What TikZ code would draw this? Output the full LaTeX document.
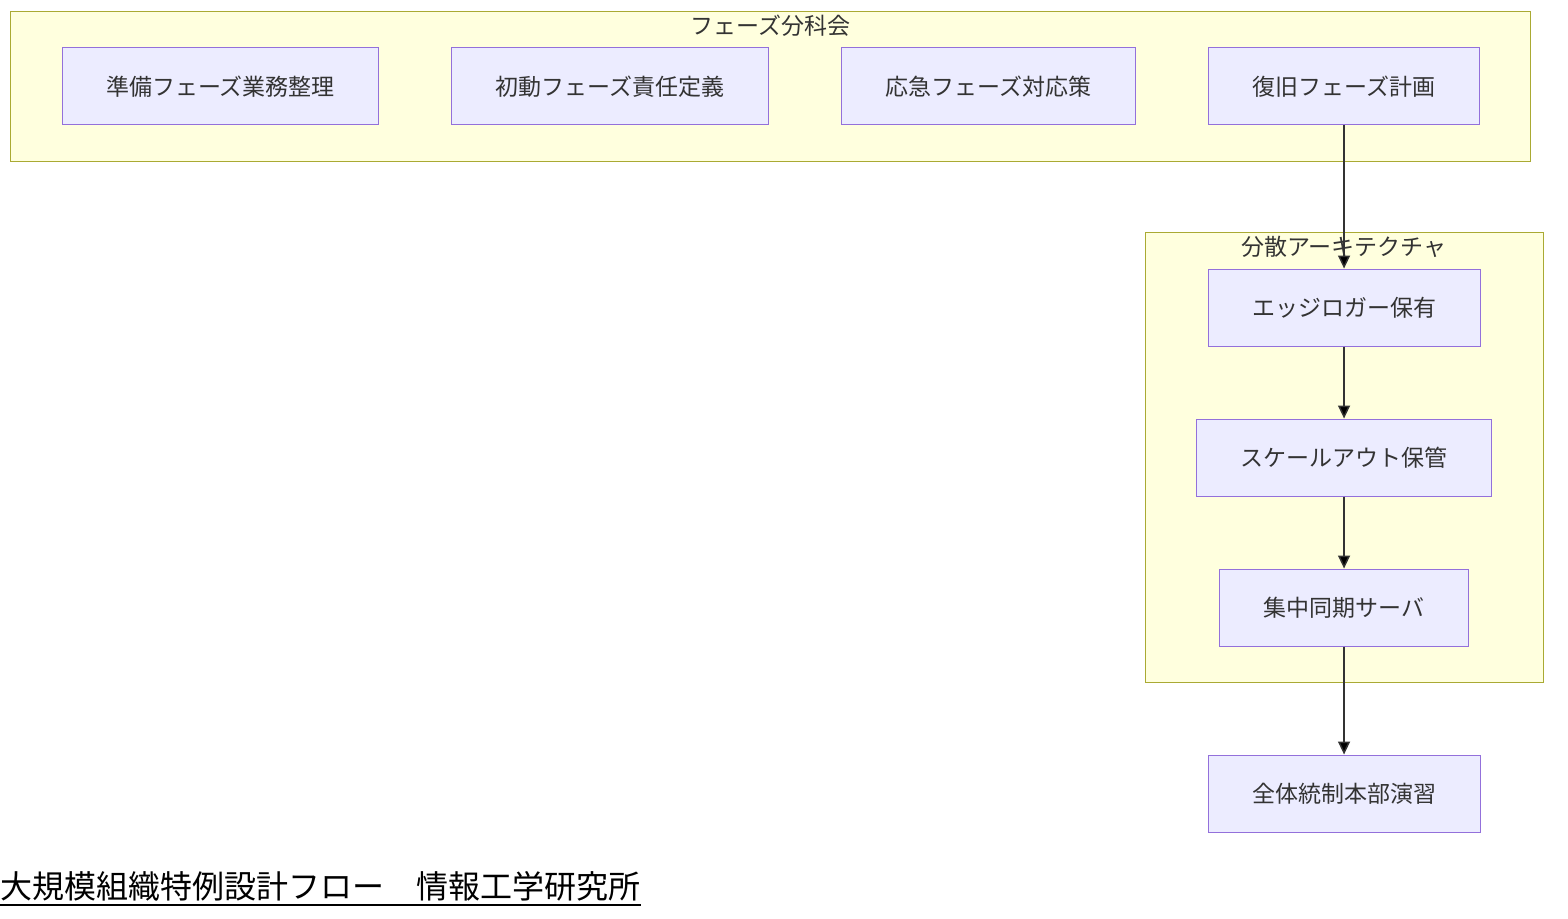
\documentclass[tikz,border=0pt]{standalone}
\usepackage{fontspec}
\setmainfont{Noto Sans CJK JP}
\usetikzlibrary{positioning, fit, backgrounds, arrows.meta}

\definecolor{groupfill}{HTML}{FFFFDE}
\definecolor{groupline}{HTML}{AAAA33}
\definecolor{boxfill}{HTML}{ECECFF}
\definecolor{boxline}{HTML}{9370DB}
\definecolor{linecol}{HTML}{333333}

\begin{document}
\begin{tikzpicture}[x=0.5pt, y=0.5pt, node distance=36pt, auto,
	>={Triangle[length=6.5pt,width=6pt]},
	box/.style={draw=boxline, fill=boxfill, line width=0.5pt, text=linecol,
		font=\fontsize{11.5pt}{14pt}\selectfont, inner xsep=22pt, inner ysep=0pt,
		minimum height=38.5pt},
	group/.style={draw=groupline, fill=groupfill, line width=0.5pt,
		inner xsep=25.5pt, inner ysep=18pt},
	grouptitle/.style={text=linecol, font=\fontsize{11.5pt}{14pt}\selectfont, inner sep=0pt},
	flow/.style={->, draw=linecol, line width=0.75pt}]

	\useasboundingbox (0,0) rectangle (1568,918);

	%% Phases
	\node[box] (prep) at (220.5, 831.5) {準備フェーズ業務整理};
	\node[box] (init) [right =of prep] {初動フェーズ責任定義};
	\node[box] (emer) [right =of init] {応急フェーズ対応策};
	\node[box] (recov) [right =of emer] {復旧フェーズ計画};

	%% Architecture
	\node[box] (edge_log) [below = 71.5pt of recov] {エッジロガー保有};
	\node[box] (scale_out) [below =of edge_log] {スケールアウト保管};
	\node[box] (sync_srv) [below =of scale_out] {集中同期サーバ};

	%% Drill
	\node[box] (drill) [below = 54pt of sync_srv] {全体統制本部演習};

	%% Groups
	\begin{scope}[on background layer]
		\node[group, fit=(prep) (recov)] (phases) {};
		\node[group, fit=(edge_log) (scale_out) (sync_srv)] (arch) {};
	\end{scope}
	\node[grouptitle] (phases_t) at ([yshift=-7.5pt]phases.north) {フェーズ分科会};
	\node[grouptitle] (arch_t) at ([yshift=-7.5pt]arch.north) {分散アーキテクチャ};

	\draw [flow] (recov) edge (edge_log);
	\draw [flow] (edge_log) edge (scale_out);
	\draw [flow] (scale_out) edge (sync_srv);
	\draw [flow] (sync_srv) edge (drill);

	%% Title
	\node[anchor=west, inner sep=0pt, font=\fontsize{16pt}{19pt}\selectfont] (title) at (0, 32)
		{大規模組織特例設計フロー　情報工学研究所};
	\draw[line width=1pt] ([yshift=-2pt]title.south west) -- ([yshift=-2pt]title.south east);

\end{tikzpicture}
\end{document}
